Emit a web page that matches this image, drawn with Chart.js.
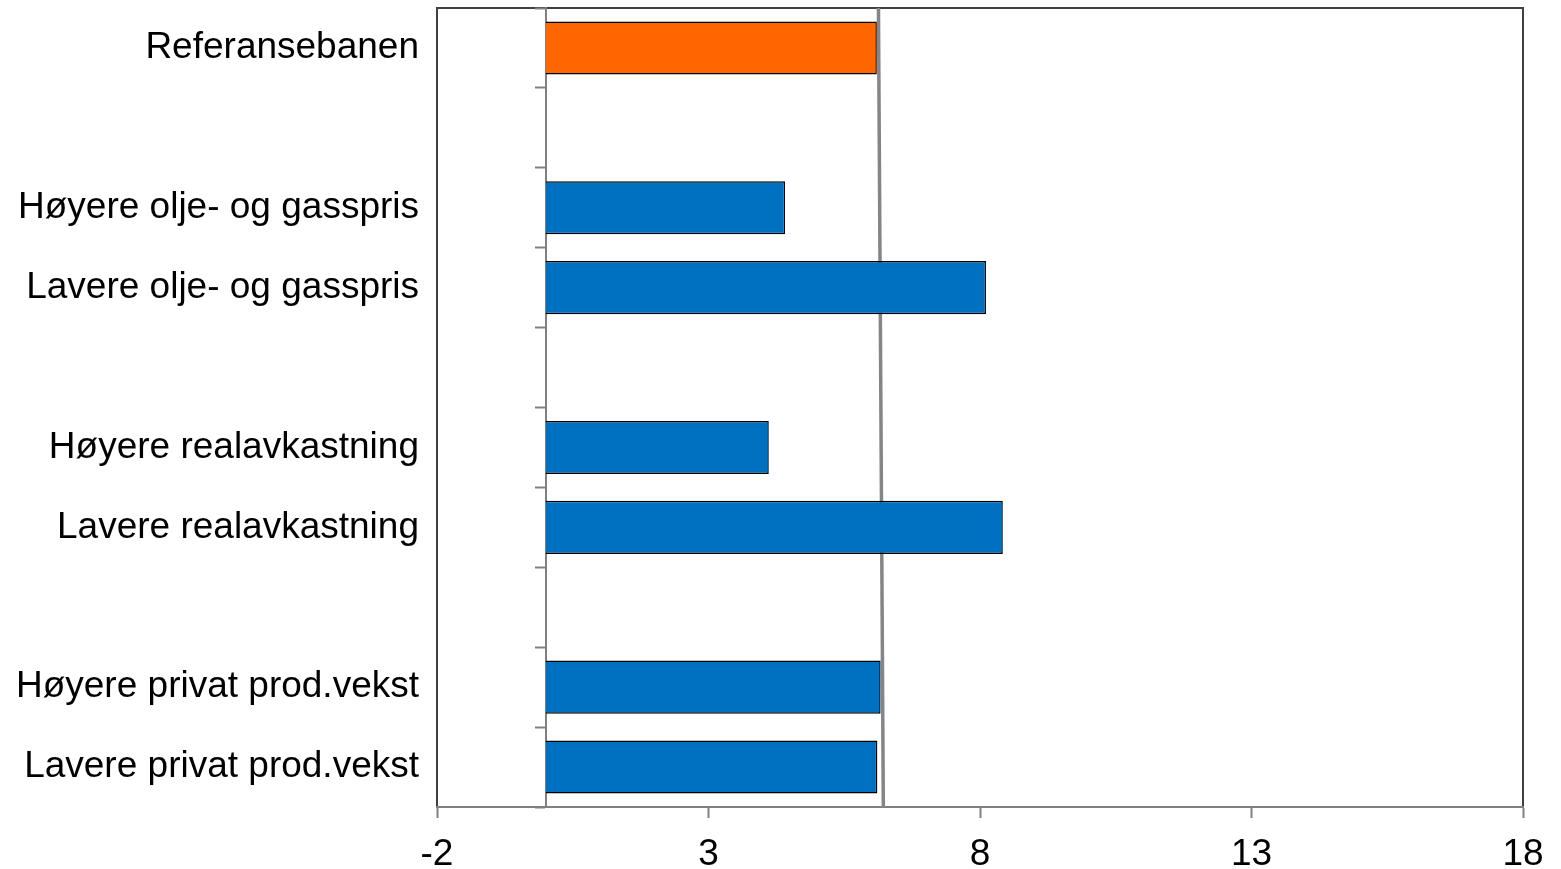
<!DOCTYPE html>
<html>
<head>
<meta charset="utf-8">
<script src="https://cdn.jsdelivr.net/npm/chart.js@4.4.4/dist/chart.umd.min.js"></script>
<style>
  html, body { margin: 0; padding: 0; background: #fff; }
  #wrap { width: 1561px; height: 869px; }
</style>
</head>
<body>
<div id="wrap"><canvas id="c"></canvas></div>
<script>
// Scenarios (empty strings are gap rows between groups)
const categories = [
  "Referansebanen",
  "",
  "Høyere olje- og gasspris",
  "Lavere olje- og gasspris",
  "",
  "Høyere realavkastning",
  "Lavere realavkastning",
  "",
  "Høyere privat prod.vekst",
  "Lavere privat prod.vekst"
]
const values = [6.10, null, 4.41, 8.11, null, 4.11, 8.42, null, 6.17, 6.11]

// Reference line (value at top and bottom of the plot)
const refLineX = [6.13, 6.22]
const refLineY = [1, 0]

const xTicks = [-2, 3, 8, 13, 18]

const frame = {
  id: "frame",
  beforeDraw(chart) {
    const { ctx, chartArea: a } = chart
    ctx.save()
    ctx.strokeStyle = "#404040"
    ctx.lineWidth = 2
    ctx.strokeRect(a.left, a.top, a.right - a.left, a.bottom - a.top)
    ctx.restore()
  }
}

const noPad = (s) => { s.paddingTop = 0; s.paddingBottom = 0 }

const font = { family: "'Liberation Sans', Arial, sans-serif", size: 37 }

new Chart(document.getElementById("c"), {
  type: "bar",
  data: {
    labels: categories,
    datasets: [
      {
        data: values,
        yAxisID: "y",
        xAxisID: "x",
        grouped: false,
        backgroundColor: (c) => c.dataIndex === 0 ? "#FF6600" : "#0070C0",
        borderColor: "#000",
        borderWidth: 1.5,
        categoryPercentage: 1,
        barPercentage: 0.665
      },
      {
        type: "scatter",
        indexAxis: "x",
        data: refLineX.map((x, i) => ({ x: x, y: refLineY[i] })),
        xAxisID: "x",
        yAxisID: "yLine",
        showLine: true,
        borderColor: "#858585",
        borderWidth: 3.5,
        pointRadius: 0,
        clip: false
      }
    ]
  },
  options: {
    indexAxis: "y",
    responsive: true,
    maintainAspectRatio: false,
    animation: false,
    layout: { padding: { top: 8, right: 38, left: 0, bottom: 0 } },
    plugins: {
      legend: { display: false },
      tooltip: { enabled: false }
    },
    scales: {
      x: {
        type: "linear",
        min: -2,
        max: 18,
        afterBuildTicks: (s) => { s.ticks = xTicks.map(v => ({ value: v })) },
        afterFit: (s) => { s.height = 62 },
        grid: { drawOnChartArea: false, tickLength: 11, tickColor: "#808080", tickWidth: 2 },
        border: { color: "#808080", width: 2 },
        ticks: { color: "#000", font: font, padding: 15 }
      },
      y: {
        type: "category",
        position: "left",
        afterFit: (s) => { s.width = 437; noPad(s) },
        grid: { display: false, drawTicks: false, tickLength: 0 },
        border: { display: false },
        ticks: { color: "#000", font: font, padding: 18, autoSkip: false }
      },
      y0: {
        type: "category",
        position: { x: 0 },
        offset: true,
        afterFit: noPad,
        grid: { offset: true, drawOnChartArea: false, tickLength: 10, tickColor: "#808080", tickWidth: 2 },
        border: { color: "#808080", width: 2 },
        ticks: { display: false }
      },
      yLine: {
        type: "linear",
        display: false,
        offset: false,
        afterFit: noPad,
        min: 0,
        max: 1
      }
    }
  },
  plugins: [frame]
})
</script>
</body>
</html>
